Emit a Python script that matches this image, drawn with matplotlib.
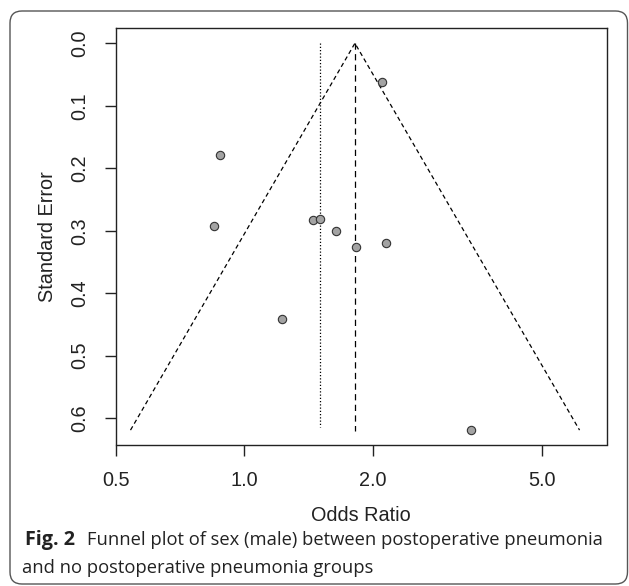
import numpy as np
import matplotlib.pyplot as plt
from matplotlib.patches import FancyBboxPatch

# study estimates
odds_ratio = [0.876, 0.849, 1.450, 1.506, 1.637, 1.830, 2.148, 1.223, 2.100, 3.400]
std_error = [0.179, 0.293, 0.2825, 0.281, 0.3006, 0.3257, 0.3193, 0.4415, 0.0615, 0.619]

# pooled estimates (dashed = fixed, dotted = random)
pooled_fixed = 1.817
pooled_random = 1.504
se_max = 0.619

# funnel outline (pseudo 95% limits)
funnel_x = [0.540, pooled_fixed, 6.12]
funnel_y = [se_max, 0.0, se_max]

x_ticks = [0.5, 1.0, 2.0, 5.0]
x_ticklabels = ["0.5", "1.0", "2.0", "5.0"]
y_ticks = [0.0, 0.1, 0.2, 0.3, 0.4, 0.5, 0.6]
y_ticklabels = ["0.0", "0.1", "0.2", "0.3", "0.4", "0.5", "0.6"]

W, H = 629, 586
fig = plt.figure(figsize=(W / 100, H / 100), dpi=100)

# rounded frame around the whole figure
bg = fig.add_axes([0, 0, 1, 1])
bg.set_xlim(0, W)
bg.set_ylim(H, 0)
bg.axis("off")
bg.add_patch(FancyBboxPatch((10, 11), 617.5, 573, boxstyle="round,pad=0,rounding_size=12",
                            fill=False, edgecolor="#555555", linewidth=1.0))

plt.rcParams['font.family'] = ['Liberation Sans', 'DejaVu Sans']

left, right, top, bottom = 116, 606.5, 28.3, 444.5
ax = fig.add_axes([left / W, 1 - bottom / H, (right - left) / W, (bottom - top) / H])

ax.plot(funnel_x, funnel_y, color="black", linewidth=0.9, linestyle=(0, (3.5, 2.5)))
ax.plot([pooled_random, pooled_random], [0, 0.614], color="black", linewidth=0.9, linestyle=(0, (1, 1.6)))
ax.plot([pooled_fixed, pooled_fixed], [0, 0.620], color="black", linewidth=0.9, linestyle=(0, (5, 3.5)))
ax.scatter(odds_ratio, std_error, s=36, facecolor="#a3a3a3", edgecolor="#333333", linewidth=0.8, zorder=3)

ax.set_xscale("log")
ax.set_xlim(0.4993, 7.08)
ax.set_ylim(0.642, -0.0239)
ax.set_xticks(x_ticks)
ax.set_xticklabels(x_ticklabels)
ax.minorticks_off()
ax.set_yticks(y_ticks)
ax.set_yticklabels(y_ticklabels, rotation=90, va="center")
ax.tick_params(axis="both", length=8, width=1, labelsize=14.3, colors="#222222")
ax.tick_params(axis="x", pad=11)
ax.tick_params(axis="y", pad=11)
for s in ax.spines.values():
    s.set_linewidth(1.0)
    s.set_color("#222222")

ax.set_xlabel("Odds Ratio", fontsize=14.3, color="#222222", labelpad=11.5)
ax.set_ylabel("Standard Error", fontsize=14.3, color="#222222", labelpad=10)

# caption
cap_font = ['Open Sans', 'DejaVu Sans']
cap_size = 13.2
fig.text(25 / W, 1 - 545 / H, "Fig. 2", fontsize=14.2, fontweight="bold", family=cap_font,
         color="#222222", va="baseline")
fig.text(87 / W, 1 - 545 / H, "Funnel plot of sex (male) between postoperative pneumonia",
         fontsize=cap_size, family=cap_font, color="#222222", va="baseline")
fig.text(22 / W, 1 - 573 / H, "and no postoperative pneumonia groups",
         fontsize=cap_size, family=cap_font, color="#222222", va="baseline")

fig.savefig("out.png", dpi=100)
